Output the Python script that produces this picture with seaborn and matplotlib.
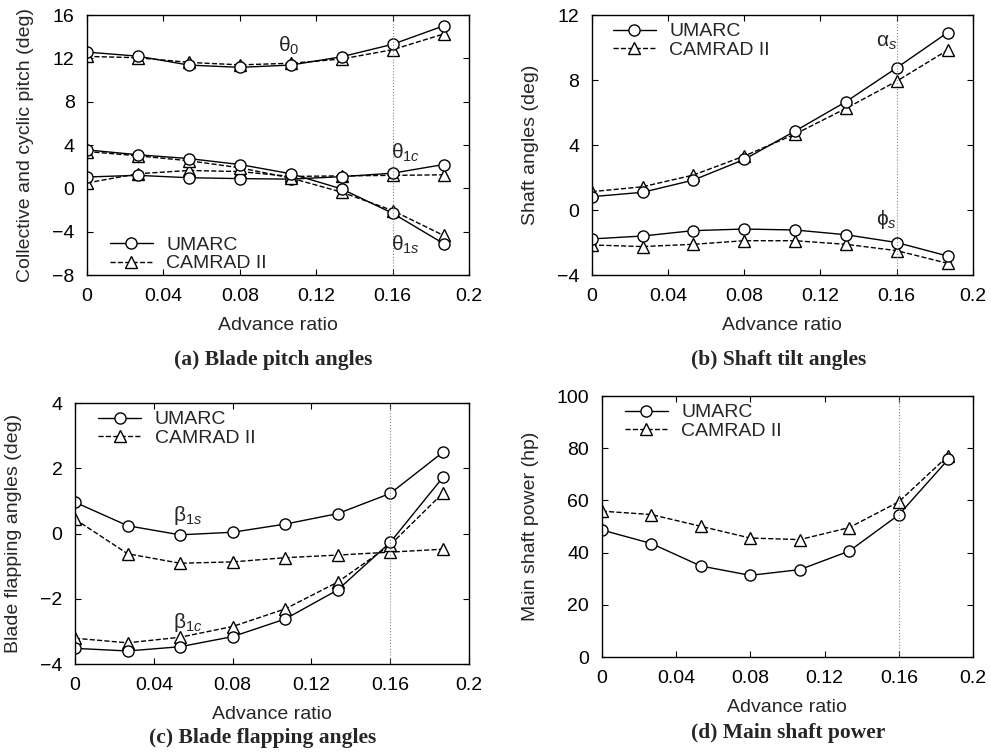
import numpy as np
import pandas as pd
import matplotlib
matplotlib.use('Agg')
import matplotlib.pyplot as plt
from matplotlib.lines import Line2D
import seaborn as sns

# advance ratio (0 to 70 knots in 10 kt steps)
mu = [0.0, 0.0267, 0.0533, 0.08, 0.1067, 0.1333, 0.16, 0.1867]

# (a) blade pitch angles
theta0_umarc = [12.58, 12.2, 11.38, 11.17, 11.38, 12.15, 13.3, 15.0]
theta0_camrad = [12.18, 12.06, 11.63, 11.4, 11.55, 11.94, 12.8, 14.25]
theta1c_umarc = [1.05, 1.2, 0.98, 0.9, 0.85, 1.08, 1.4, 2.2]
theta1c_camrad = [0.5, 1.35, 1.65, 1.55, 1.1, 1.15, 1.2, 1.25]
theta1s_umarc = [3.55, 3.1, 2.75, 2.2, 1.35, -0.05, -2.3, -5.1]
theta1s_camrad = [3.4, 3.0, 2.55, 1.9, 0.95, -0.35, -2.05, -4.35]

# (b) shaft tilt angles
alpha_umarc = [0.82, 1.09, 1.84, 3.11, 4.86, 6.66, 8.75, 10.92]
alpha_camrad = [1.13, 1.43, 2.15, 3.32, 4.67, 6.25, 7.93, 9.84]
phi_umarc = [-1.78, -1.6, -1.27, -1.17, -1.23, -1.52, -2.0, -2.83]
phi_camrad = [-2.15, -2.25, -2.11, -1.89, -1.89, -2.11, -2.5, -3.28]

# (c) blade flapping angles
beta1s_umarc = [0.96, 0.24, -0.04, 0.04, 0.29, 0.61, 1.23, 2.49]
beta1s_camrad = [0.44, -0.62, -0.91, -0.87, -0.74, -0.66, -0.57, -0.48]
beta1c_umarc = [-3.52, -3.6, -3.47, -3.16, -2.62, -1.73, -0.27, 1.72]
beta1c_camrad = [-3.21, -3.35, -3.18, -2.85, -2.31, -1.49, -0.35, 1.24]

# (d) main shaft power (hp)
power_umarc = [48.7, 43.5, 34.9, 31.3, 33.5, 40.6, 54.5, 75.8]
power_camrad = [55.9, 54.6, 50.1, 45.6, 45.0, 49.6, 59.5, 77.2]

sns.set_theme(style='ticks')
plt.rcParams['font.family'] = ['Liberation Sans', 'DejaVu Sans']
plt.rcParams['mathtext.fontset'] = 'custom'
plt.rcParams['mathtext.rm'] = 'Liberation Sans'
plt.rcParams['mathtext.it'] = 'Liberation Sans:italic'
plt.rcParams['axes.linewidth'] = 1.0
plt.rcParams['axes.edgecolor'] = 'black'

FS = 14
umarc_style = dict(color='black', marker='o', markersize=8, markerfacecolor='white',
                   markeredgecolor='black', markeredgewidth=1.0, linewidth=1.0, linestyle='-')
camrad_style = dict(color='black', marker='^', markersize=8, markerfacecolor='white',
                    markeredgecolor='black', markeredgewidth=1.0, linewidth=1.0, linestyle='--')


def draw_pair(ax, y_u, y_c):
    df = pd.DataFrame({'mu': mu, 'umarc': y_u, 'camrad': y_c})
    sns.lineplot(data=df, x='mu', y='camrad', ax=ax, **camrad_style)
    sns.lineplot(data=df, x='mu', y='umarc', ax=ax, **umarc_style)


def style_axes(ax, ylim, yticks, ylabel):
    ax.axvline(0.16, color='#888888', linewidth=0.8, linestyle=':')
    ax.set_xlim(0, 0.2)
    ax.set_xticks([0, 0.04, 0.08, 0.12, 0.16, 0.2])
    ax.set_xticklabels(['0', '0.04', '0.08', '0.12', '0.16', '0.2'])
    ax.set_ylim(*ylim)
    ax.set_yticks(yticks)
    ax.set_yticklabels([str(t).replace('-', '\u2212') for t in yticks])
    ax.tick_params(direction='in', length=4, width=0.8, top=True, right=True,
                   labelsize=FS, pad=9, colors='black')
    ax.set_xlabel('Advance ratio', fontsize=FS, labelpad=9)
    ax.set_ylabel(ylabel, fontsize=FS, labelpad=13)
    for s in ax.spines.values():
        s.set_visible(True)


def add_legend(ax, loc, anchor):
    handles = [Line2D([], [], **umarc_style), Line2D([], [], **camrad_style)]
    ax.legend(handles, ['UMARC', 'CAMRAD II'], loc=loc, bbox_to_anchor=anchor,
              frameon=False, fontsize=FS, handlelength=2.2, handletextpad=0.7,
              labelspacing=0.05, borderaxespad=0)


fig = plt.figure(figsize=(9.91, 7.52), dpi=100)
ax_a = fig.add_axes([0.0878, 0.6343, 0.3855, 0.3457])
ax_b = fig.add_axes([0.597, 0.6343, 0.3848, 0.3457])
ax_c = fig.add_axes([0.0757, 0.117, 0.3976, 0.347])
ax_d = fig.add_axes([0.6072, 0.1263, 0.3747, 0.347])

# ── (a) Blade pitch angles
draw_pair(ax_a, theta0_umarc, theta0_camrad)
draw_pair(ax_a, theta1c_umarc, theta1c_camrad)
draw_pair(ax_a, theta1s_umarc, theta1s_camrad)
style_axes(ax_a, (-8, 16), [-8, -4, 0, 4, 8, 12, 16], 'Collective and cyclic pitch (deg)')
ax_a.text(0.1, 13.2, r'$\mathrm{\theta}_0$', fontsize=15, va='center')
ax_a.text(0.159, 3.3, r'$\mathrm{\theta}_{1\mathit{c}}$', fontsize=15, va='center')
ax_a.text(0.159, -5.2, r'$\mathrm{\theta}_{1\mathit{s}}$', fontsize=15, va='center')
add_legend(ax_a, 'lower left', (0.04, -0.02))

# ── (b) Shaft tilt angles
draw_pair(ax_b, alpha_umarc, alpha_camrad)
draw_pair(ax_b, phi_umarc, phi_camrad)
style_axes(ax_b, (-4, 12), [-4, 0, 4, 8, 12], 'Shaft angles (deg)')
ax_b.text(0.149, 10.3, r'$\mathrm{\alpha}_{\mathit{s}}$', fontsize=15, va='center')
ax_b.text(0.149, -0.6, r'$\mathrm{\phi}_{\mathit{s}}$', fontsize=15, va='center')
add_legend(ax_b, 'upper left', (0.035, 1.0))

# ── (c) Blade flapping angles
draw_pair(ax_c, beta1s_umarc, beta1s_camrad)
draw_pair(ax_c, beta1c_umarc, beta1c_camrad)
style_axes(ax_c, (-4, 4), [-4, -2, 0, 2, 4], 'Blade flapping angles (deg)')
ax_c.text(0.0495, 0.55, r'$\mathrm{\beta}_{1\mathit{s}}$', fontsize=15, va='center')
ax_c.text(0.0495, -2.72, r'$\mathrm{\beta}_{1\mathit{c}}$', fontsize=15, va='center')
add_legend(ax_c, 'upper left', (0.039, 1.0))

# ── (d) Main shaft power
draw_pair(ax_d, power_umarc, power_camrad)
style_axes(ax_d, (0, 100), [0, 20, 40, 60, 80, 100], 'Main shaft power (hp)')
add_legend(ax_d, 'upper left', (0.041, 1.0))

# panel captions
cap = dict(fontsize=15.5, fontweight='bold', ha='center', va='center',
           family=['Liberation Serif', 'DejaVu Serif'])
fig.text(273 / 991, 1 - 360 / 752, '(a) Blade pitch angles', **cap)
fig.text(779 / 991, 1 - 360 / 752, '(b) Shaft tilt angles', **cap)
fig.text(263 / 991, 1 - 738 / 752, '(c) Blade flapping angles', **cap)
fig.text(788 / 991, 1 - 733 / 752, '(d) Main shaft power', **cap)

plt.savefig('out.png', dpi=100)
plt.close()
